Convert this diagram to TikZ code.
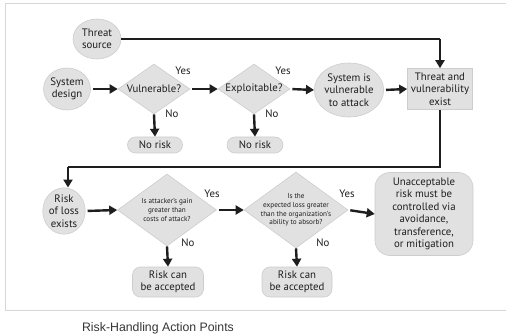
\documentclass[tikz,border=0pt]{standalone}
\usepackage{fontspec}
\setmainfont{PT Sans}
\newfontfamily\capfont{Liberation Sans}
\usetikzlibrary{shapes.geometric,arrows.meta}
\definecolor{boxfill}{RGB}{225,225,225}
\definecolor{boxline}{RGB}{205,205,205}
\definecolor{ink}{RGB}{30,30,30}
\definecolor{framec}{RGB}{215,215,215}
\tikzset{
  base/.style={fill=boxfill, draw=boxline, line width=0.6pt, text=ink, align=center, font=\fontsize{10.8}{12.5}\selectfont, inner sep=0pt},
  oval/.style={base, ellipse},
  sqbox/.style={base, rectangle},
  pill/.style={base, rectangle, rounded corners=8pt},
  bigpill/.style={base, rectangle, rounded corners=15pt},
  dia/.style={base, diamond, inner sep=-25pt},
  smalltext/.style={font=\fontsize{7.2}{8.8}\selectfont},
  arr/.style={line width=2.4pt, draw=ink, -{Triangle[length=8pt,width=9pt]}},
  ln/.style={line width=2.4pt, draw=ink},
  yn/.style={text=ink, font=\fontsize{10.8}{12}\selectfont, inner sep=0pt}
}
\begin{document}
\begin{tikzpicture}[x=1pt,y=-1pt]
\useasboundingbox (0,0) rectangle (506,334);
\draw[framec, line width=1pt] (510,4) -- (5,4) -- (5,310) -- (510,310);

\node[oval, minimum width=48, minimum height=40] (tsrc) at (97,39) {Threat\\source};
\node[oval, minimum width=47, minimum height=42] (sysd) at (67,89) {System\\design};
\node[dia, minimum width=72, minimum height=50] (vul) at (154,89) {Vulnerable?};
\node[dia, minimum width=72, minimum height=50] (expl) at (254,89) {Exploitable?};
\node[oval, minimum width=62, minimum height=54] (sysv) at (349,90) {System is\\vulnerable\\to attack};
\node[sqbox, minimum width=65, minimum height=41] (tv) at (440,89) {Threat and\\vulnerability\\exist};
\node[pill, minimum width=55, minimum height=16] (nr1) at (155,145) {No risk};
\node[pill, minimum width=56, minimum height=16] (nr2) at (255,145) {No risk};

\node[oval, minimum width=42, minimum height=44] (risk) at (64,211) {Risk\\of loss\\exists};
\node[dia, smalltext, minimum width=99, minimum height=72] (d1) at (167,210) {Is attacker's gain\\greater than\\costs of attack?};
\node[dia, smalltext, minimum width=104, minimum height=76] (d2) at (296,210) {Is the\\expected loss greater\\than the organization's\\ability to absorb?};
\node[bigpill, minimum width=98, minimum height=83] (unacc) at (424,214) {Unacceptable\\risk must be\\controlled via\\avoidance,\\transference,\\or mitigation};
\node[pill, minimum width=71, minimum height=30] (ra1) at (168,282) {Risk can\\be accepted};
\node[pill, minimum width=70, minimum height=30] (ra2) at (297,282) {Risk can\\be accepted};

\node[yn] (y1) at (183,71) {Yes};
\node[yn] (n1) at (172,114) {No};
\node[yn] (y2) at (283,71) {Yes};
\node[yn] (n2) at (272,114) {No};
\node[yn] (y3) at (212,194) {Yes};
\node[yn] (n3) at (188,243) {No};
\node[yn] (y4) at (347,194) {Yes};
\node[yn] (n4) at (323,243) {No};

\node[text=ink!90, font=\capfont\fontsize{12.3}{14}\selectfont, inner sep=0pt] (cap) at (158,328) {Risk-Handling Action Points};

\coordinate (tcorner) at (tv.north |- tsrc.east);
\draw[ln] (tsrc.east) -- (tcorner);
\draw[arr] (tcorner) -- (tv.north);
\draw[arr, shorten <=2pt] (sysd.east) -- (vul.west);
\draw[arr, shorten <=2pt] (vul.east) -- (expl.west);
\draw[arr, shorten <=2pt] (expl.east) -- (sysv.west);
\draw[arr, shorten <=2pt] (sysv.east) -- (tv.west);
\draw[arr] (vul.south) -- (nr1.north);
\draw[arr] (expl.south) -- (nr2.north);

\coordinate (lr) at (440,167);
\coordinate (ll) at (68,167);
\draw[ln] (tv.south) -- (lr) -- (ll);
\draw[arr] (ll) -- (risk.north -| ll);
\draw[arr, shorten <=2pt] (risk.east) -- (d1.west);
\draw[arr, shorten <=2pt] (d1.east) -- (d2.west);
\draw[arr, shorten <=2pt] (d2.east) -- (unacc.west);
\draw[arr] (d1.south) -- (ra1.north);
\draw[arr] (d2.south) -- (ra2.north);
\end{tikzpicture}
\end{document}
